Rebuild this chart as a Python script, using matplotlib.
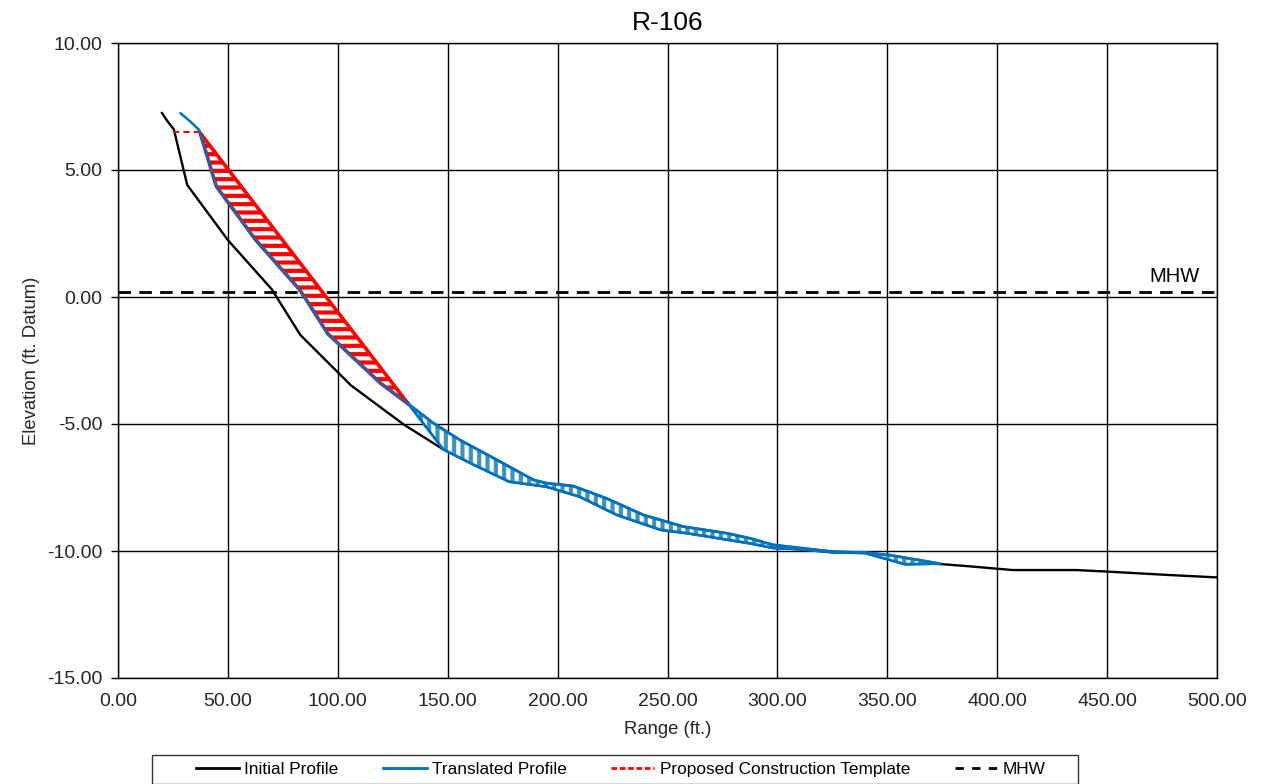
import numpy as np
import matplotlib
matplotlib.use("Agg")
import matplotlib.pyplot as plt
from matplotlib.lines import Line2D
from matplotlib.patches import Rectangle

plt.rcParams['font.family'] = ['Liberation Sans', 'DejaVu Sans']
plt.rcParams['hatch.linewidth'] = 3.0

# Survey profiles (range in ft, elevation in ft Datum)
initial_x = [20.0, 22.7, 25.4, 31.5, 50.0, 70.0, 72.5, 83.0, 106.0, 130.0, 148.0,
             162.0, 178.0, 195.0, 210.0, 227.0, 247.0, 259.0, 287.5, 298.0, 310.0,
             325.0, 340.0, 358.0, 372.0, 387.0, 407.0, 436.0, 450.0, 477.0, 500.0]
initial_y = [7.24, 6.90, 6.60, 4.41, 2.24, 0.30, -0.05, -1.50, -3.48, -5.02, -6.00,
             -6.61, -7.27, -7.47, -7.86, -8.58, -9.17, -9.30, -9.70, -9.88, -9.93,
             -10.05, -10.08, -10.52, -10.50, -10.60, -10.75, -10.75, -10.81, -10.94, -11.04]

translated_x = [28.5, 33.0, 37.0, 44.7, 62.5, 82.5, 85.0, 95.5, 119.5, 135.7, 143.5,
                155.6, 173.8, 189.0, 195.0, 207.0, 222.3, 239.0, 257.2, 276.9, 287.5,
                298.1, 325.4, 340.0, 351.0, 374.0]
translated_y = [7.23, 6.90, 6.57, 4.36, 2.26, 0.30, -0.02, -1.45, -3.40, -4.45, -4.97,
                -5.63, -6.48, -7.20, -7.33, -7.44, -7.93, -8.58, -9.04, -9.30, -9.50,
                -9.76, -10.03, -10.06, -10.16, -10.50]

template_x = [25.0, 37.0, 148.0]
template_y = [6.5, 6.5, -6.0]

mhw_elev = 0.2

x_ticks = [0, 50, 100, 150, 200, 250, 300, 350, 400, 450, 500]
y_ticks = [-15, -10, -5, 0, 5, 10]

BLUE = '#0070C0'
BLUE_HATCH = '#3A94BC'
RED = '#FF0000'

W, H = 1263, 784
fig = plt.figure(figsize=(W / 100, H / 100), dpi=100)
ax = fig.add_axes([118 / W, 1 - 678 / H, 1099 / W, 635 / H])

ax.set_xlim(0, 500)
ax.set_ylim(-15, 10)
ax.set_xticks(x_ticks)
ax.set_yticks(y_ticks)
ax.xaxis.set_major_formatter(matplotlib.ticker.FormatStrFormatter('%.2f'))
ax.yaxis.set_major_formatter(matplotlib.ticker.FormatStrFormatter('%.2f'))
ax.tick_params(axis='x', length=0, pad=11, labelsize=14, labelcolor='#262626')
ax.tick_params(axis='y', length=5, width=1, direction='out', pad=6, labelsize=14,
               labelcolor='#262626', color='black')
ax.grid(True, color='black', linewidth=1.0, zorder=0)
ax.set_axisbelow(True)
for s in ax.spines.values():
    s.set_color('black')
    s.set_linewidth(1.0)

# Common range grid for the shaded volumes
xs = np.linspace(25.0, 374.0, 8000)
t_i = np.interp(xs, template_x, template_y, right=-99)
tr_i = np.interp(xs, translated_x, translated_y)
in_i = np.interp(xs, initial_x, initial_y)
lower = np.maximum(in_i, t_i)

# Initial profile
ax.plot(initial_x, initial_y, color='black', lw=1.7, zorder=3)

# Fill between template and translated profile
red_mask = (t_i > tr_i) & (xs >= 37)
ax.fill_between(xs, t_i, tr_i, where=red_mask, interpolate=True,
                facecolor='white', edgecolor=RED, hatch='--', linewidth=0, zorder=4)
ax.fill_between(xs, t_i, tr_i, where=red_mask, interpolate=True,
                facecolor='none', edgecolor=RED, linewidth=2.6, zorder=5)

# Translated profile above initial / template
blue_mask = (tr_i > lower) & (xs >= 130)
ax.fill_between(xs, tr_i, lower, where=blue_mask, interpolate=True,
                facecolor='white', edgecolor=BLUE_HATCH, hatch='||', linewidth=0, zorder=4)
ax.fill_between(xs, tr_i, lower, where=blue_mask, interpolate=True,
                facecolor='none', edgecolor=BLUE, linewidth=2.0, zorder=5)

ax.plot(translated_x, translated_y, color=BLUE, lw=1.8, zorder=6)
ax.plot(template_x[:2], template_y[:2], color=RED, lw=1.5, dashes=(3, 2), zorder=6)

# Mean high water
ax.axhline(mhw_elev, color='black', lw=2.0, dashes=(4.5, 3), zorder=2)
ax.text(492, 0.45, 'MHW', fontsize=14.5, ha='right', va='bottom', color='black')

ax.set_title('R-106', fontsize=19, pad=9)
ax.set_xlabel('Range (ft.)', fontsize=13.3, labelpad=8, color='#262626')
ax.set_ylabel('Elevation (ft. Datum)', fontsize=13.3, labelpad=5, color='#262626')

handles = [
    Line2D([], [], color='black', lw=2),
    Line2D([], [], color=BLUE, lw=2),
    Line2D([], [], color=RED, lw=2, dashes=(2, 1)),
    Line2D([], [], color='black', lw=2, dashes=(3, 3)),
]
labels = ['Initial Profile', 'Translated Profile', 'Proposed Construction Template', 'MHW']
leg = fig.legend(handles, labels, loc='center', bbox_to_anchor=(621 / W, 1 - 769 / H),
                 ncol=4, fontsize=12.4, frameon=False,
                 handlelength=2.5, handletextpad=0.3, columnspacing=2.6, borderpad=0.2,
                 borderaxespad=0)

# Legend frame
fig.patches.append(Rectangle((152 / W, 0), (1078 - 152) / W, 1 - 755 / H,
                             transform=fig.transFigure, facecolor='none',
                             edgecolor='#333333', linewidth=1.0))

fig.savefig('out.png', dpi=100)
